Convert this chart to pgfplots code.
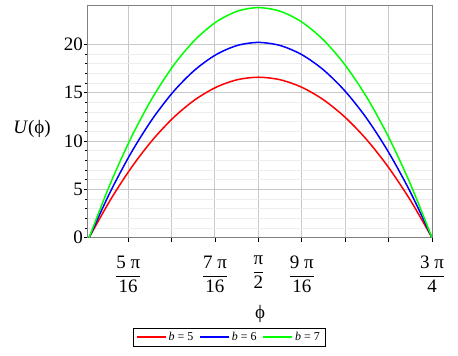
\documentclass[border=0pt]{standalone}
\usepackage{fontspec}
\setmainfont{Liberation Serif}
\usepackage{amsmath}
\usepackage{pgfplots}
\pgfplotsset{compat=1.18}
\definecolor{axgray}{RGB}{128,128,128}
\definecolor{gridmaj}{RGB}{200,200,200}
\definecolor{gridmin}{RGB}{236,236,236}
\newcommand{\fr}[2]{$\displaystyle\frac{\mbox{#1}}{\mbox{#2}}$}
\pgfplotstableread{
phi red blue green
0.8050 0.000 0.000 0.000
0.9007 3.891 4.734 5.578
0.9965 7.263 8.838 10.413
1.0922 10.116 12.309 14.503
1.1879 12.450 15.150 17.850
1.2837 14.266 17.359 20.453
1.3794 15.563 18.938 22.313
1.4751 16.341 19.884 23.428
1.5708 16.600 20.200 23.800
1.6690 16.341 19.884 23.428
1.7671 15.563 18.938 22.313
1.8653 14.266 17.359 20.453
1.9635 12.450 15.150 17.850
2.0617 10.116 12.309 14.503
2.1598 7.263 8.838 10.413
2.2580 3.891 4.734 5.578
2.3562 0.000 0.000 0.000
}\datatable
\begin{document}
\begin{tikzpicture}
\useasboundingbox (-88pt,-118.3pt) rectangle (370pt,237.7pt);
\begin{axis}[
  scale only axis, width=344pt, height=232pt,
  xmin=0.800, xmax=2.35619, ymin=0, ymax=24,
  axis line style={axgray, line width=1pt},
  xtick={0.98175,1.17810,1.37445,1.57080,1.76715,1.96350,2.15984,2.35619},
  xticklabels={\fr{5 π}{16},,\fr{7 π}{16},\fr{π}{2},\fr{9 π}{16},,,\fr{3 π}{4}},
  ytick={0,5,10,15,20},
  minor y tick num=4,
  xtick pos=bottom, ytick pos=left,
  tick align=outside, major tick length=4pt, minor tick length=2.5pt,
  tick style={black, line width=0.8pt},
  grid=both,
  major grid style={gridmaj, line width=1pt},
  minor grid style={gridmin, line width=1pt},
  tick label style={font=\fontsize{19}{22}\selectfont},
  yticklabel style={inner sep=1pt},
  xticklabel style={yshift=-11pt},
  /pgf/number format/assume math mode=true,
  every axis x label/.style={at={(axis description cs:0.5,0)}, anchor=center, yshift=-76pt, font=\fontsize{19}{22}\selectfont},
  every axis y label/.style={at={(axis description cs:0,0.47)}, anchor=center, xshift=-56pt, font=\fontsize{19}{22}\selectfont},
  xlabel={ϕ},
  ylabel={\itshape U\/\upshape(ϕ)},
  legend style={at={(axis description cs:0.41,0)}, anchor=north, yshift=-90pt,
    draw=black, line width=0.8pt, font=\fontsize{12}{14}\selectfont,
    /tikz/every even column/.append style={column sep=4pt}},
  legend columns=3,
  legend image code/.code={\draw[#1, line width=1.5pt] (0pt,0pt) -- (29pt,0pt);},
]
\addplot[red, line width=1.5pt, smooth] table[x=phi, y=red] {\datatable};
\addlegendentry{\itshape b\upshape\ = 5}
\addplot[blue, line width=1.5pt, smooth] table[x=phi, y=blue] {\datatable};
\addlegendentry{\itshape b\upshape\ = 6}
\addplot[green, line width=1.5pt, smooth] table[x=phi, y=green] {\datatable};
\addlegendentry{\itshape b\upshape\ = 7}
\end{axis}
\end{tikzpicture}
\end{document}
